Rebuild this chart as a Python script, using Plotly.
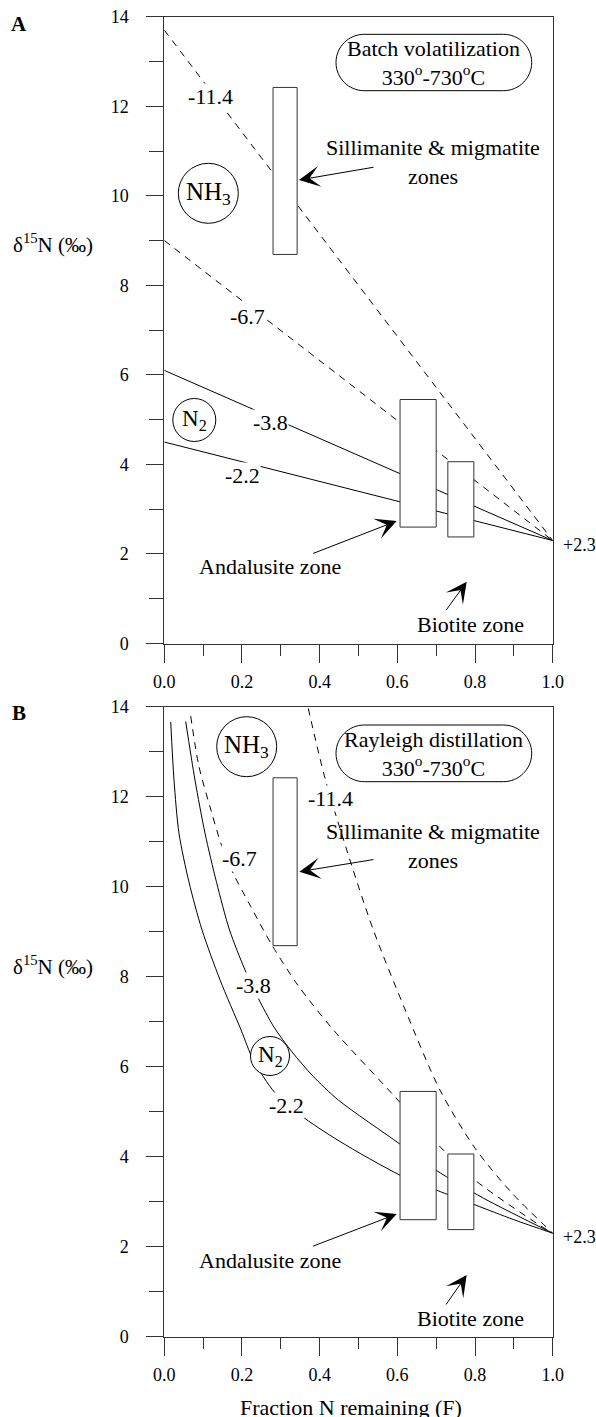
import plotly.graph_objects as go

W, H = 596, 1417
FONT = "Liberation Serif, Times New Roman, serif"

# ---------------- data ----------------
# Panel A: batch volatilization (straight lines from F=0 to F=1)
batch_F = [0.0, 1.0]
batch_m11_4 = [13.7, 2.3]
batch_m6_7 = [9.0, 2.3]
batch_m3_8 = [6.1, 2.3]
batch_m2_2 = [4.5, 2.3]

# Panel B: Rayleigh distillation curves
ray_F_m2_2 = [0.0165, 0.025, 0.0378, 0.0636, 0.0971, 0.1434, 0.1975, 0.2291, 0.285, 0.3494, 0.45, 0.607, 0.70, 0.80, 0.90, 1.0]
ray_d_m2_2 = [13.66, 12.37, 11.19, 10.10, 9.04, 7.93, 6.82, 6.15, 5.42, 4.93, 4.35, 3.59, 3.26, 2.93, 2.6, 2.3]
ray_F_m3_8 = [0.0551, 0.079, 0.1048, 0.1344, 0.1679, 0.2078, 0.242, 0.2824, 0.3288, 0.3828, 0.448, 0.6069, 0.6996, 0.8213, 1.0]
ray_d_m3_8 = [13.67, 12.37, 11.19, 10.10, 9.04, 8.15, 7.52, 6.88, 6.33, 5.79, 5.26, 4.28, 3.70, 3.08, 2.3]
ray_F_m6_7 = [0.068, 0.0893, 0.1202, 0.1486, 0.1795, 0.2207, 0.2773, 0.344, 0.4351, 0.594, 0.7013, 0.80, 0.9588, 1.0]
ray_d_m6_7 = [13.79, 12.67, 11.70, 10.89, 10.26, 9.59, 8.70, 7.81, 6.82, 5.33, 4.30, 3.48, 2.52, 2.3]
ray_F_m11_4 = [0.3707, 0.4138, 0.4696, 0.5381, 0.6205, 0.7098, 0.80, 0.8953, 1.0]
ray_d_m11_4 = [13.96, 12.41, 10.82, 9.04, 7.26, 5.48, 4.19, 3.19, 2.3]

# metamorphic zone ranges (F and delta15N)
zone_names = ["Sillimanite & migmatite", "Andalusite", "Biotite"]
zone_F_lo = [0.28, 0.607, 0.73]
zone_F_hi = [0.342, 0.70, 0.797]
zone_d_lo = [8.69, 2.6, 2.38]
zone_d_hi = [12.42, 5.45, 4.06]

x_ticks = [0.0, 0.2, 0.4, 0.6, 0.8, 1.0]
y_ticks = [0, 2, 4, 6, 8, 10, 12, 14]

# ---------------- helpers ----------------
def px(x):
    return x / W


def py(y):
    return 1 - y / H


fig = go.Figure()

line_solid = dict(color="black", width=1)
line_dash = dict(color="black", width=1, dash="7px,6px")

# Panel A traces
for d, st in [(batch_m11_4, line_dash), (batch_m6_7, line_dash),
              (batch_m3_8, line_solid), (batch_m2_2, line_solid)]:
    fig.add_trace(go.Scatter(x=batch_F, y=d, mode="lines", line=st,
                             xaxis="x", yaxis="y", hoverinfo="skip"))

# Panel B traces
for F, d, st in [(ray_F_m11_4, ray_d_m11_4, line_dash), (ray_F_m6_7, ray_d_m6_7, line_dash),
                 (ray_F_m3_8, ray_d_m3_8, line_solid), (ray_F_m2_2, ray_d_m2_2, line_solid)]:
    fig.add_trace(go.Scatter(x=F, y=d, mode="lines", line=dict(st, shape="spline", smoothing=0.8),
                             xaxis="x2", yaxis="y2", hoverinfo="skip"))

shapes = []
# zone boxes in both panels
for xr, yr in [("x", "y"), ("x2", "y2")]:
    for i in range(len(zone_names)):
        shapes.append(dict(type="rect", xref=xr, yref=yr,
                           x0=zone_F_lo[i], x1=zone_F_hi[i], y0=zone_d_lo[i], y1=zone_d_hi[i],
                           fillcolor="white", line=dict(color="#333", width=1), layer="above"))


def circle(cx, cy, r):
    return dict(type="circle", xref="paper", yref="paper", xsizemode="pixel", ysizemode="pixel",
                xanchor=px(cx), yanchor=py(cy), x0=-r, x1=r, y0=-r, y1=r,
                line=dict(color="black", width=1), fillcolor="white", layer="above")


def stadium(x0, x1, y0, y1):
    cx, cy = (x0 + x1) / 2, (y0 + y1) / 2
    hw, r = (x1 - x0) / 2, (y1 - y0) / 2
    s = hw - r
    k = 0.5523 * r
    p = (f"M{-s},{r} L{s},{r} C{s + k},{r} {hw},{k} {hw},0 "
         f"C{hw},{-k} {s + k},{-r} {s},{-r} L{-s},{-r} "
         f"C{-s - k},{-r} {-hw},{-k} {-hw},0 C{-hw},{k} {-s - k},{r} {-s},{r} Z")
    return dict(type="path", xref="paper", yref="paper", xsizemode="pixel", ysizemode="pixel",
                xanchor=px(cx), yanchor=py(cy), path=p,
                line=dict(color="black", width=1), fillcolor="white", layer="above")


shapes += [circle(208.3, 193.3, 30), circle(194.3, 420, 21.5),
           circle(246.7, 746.7, 30), circle(270, 1056, 19.5),
           stadium(336, 531.7, 34.3, 90.7), stadium(336, 531.7, 725, 781.7)]

ann = []


def text(t, x, y, size=22, bg=None, xanchor="center"):
    d = dict(text=t, x=px(x), y=py(y), xref="paper", yref="paper", showarrow=False,
             xanchor=xanchor, yanchor="middle", font=dict(family=FONT, size=size, color="black"))
    if bg:
        d.update(bgcolor=bg, borderpad=0)
    return d


def arrow(tx, ty, sx, sy):
    return dict(text="", x=px(tx), y=py(ty), xref="paper", yref="paper", showarrow=True,
                axref="pixel", ayref="pixel", ax=sx - tx, ay=sy - ty,
                arrowhead=3, arrowsize=3.5, arrowwidth=1, arrowcolor="black", standoff=0)


# Panel A texts
ann += [
    text("<b>A</b>", 19, 24, size=21),
    text("δ<sup>15</sup>N (‰)", 53, 243, size=21),
    text("-11.4", 210.5, 96.5, bg="white"),
    text("-6.7", 247, 316, bg="white"),
    text("-3.8", 270.7, 422, bg="white"),
    text("-2.2", 242, 475, bg="white"),
    text("NH<sub>3</sub>", 208.3, 193.3, size=25),
    text("N<sub>2</sub>", 194.3, 420, size=23),
    text("Batch volatilization<br>330<sup>o</sup>-730<sup>o</sup>C", 433.8, 63),
    text("Sillimanite & migmatite<br>zones", 433, 162),
    arrow(299, 180, 375, 167),
    text("Andalusite zone", 270, 566.7),
    arrow(396.7, 521, 311.7, 554),
    text("Biotite zone", 470, 624),
    arrow(466.7, 581.7, 445, 611.7),
    text("+2.3", 561, 545, size=18, xanchor="left"),
]
# Panel B texts
ann += [
    text("<b>B</b>", 19, 712.5, size=21),
    text("δ<sup>15</sup>N (‰)", 53, 965, size=21),
    text("-11.4", 330.5, 798, bg="white"),
    text("-6.7", 240, 858, bg="white"),
    text("-3.8", 253, 985, bg="white"),
    text("-2.2", 286, 1105, bg="white"),
    text("NH<sub>3</sub>", 246.7, 746.7, size=25),
    text("N<sub>2</sub>", 270, 1056, size=23),
    text("Rayleigh distillation<br>330<sup>o</sup>-730<sup>o</sup>C", 433.8, 754),
    text("Sillimanite & migmatite<br>zones", 433, 846),
    arrow(299.3, 871.7, 375, 859.3),
    text("Andalusite zone", 270, 1260),
    arrow(396.7, 1214, 311.7, 1246.7),
    text("Biotite zone", 470, 1318.3),
    arrow(466.7, 1275, 445, 1306),
    text("+2.3", 561, 1236.7, size=18, xanchor="left"),
    text("Fraction N remaining (F)", 351, 1407, size=22),
]

xdom = [164.3 / W, 552.7 / W]
ax_common = dict(showgrid=False, zeroline=False, showline=True, linecolor="#333", linewidth=1,
                 mirror=True, ticks="outside", tickcolor="#333", tickwidth=1, automargin=False,
                 tickfont=dict(family=FONT, size=18, color="black"))
xa = dict(ax_common, range=[0, 1], tickvals=x_ticks, ticktext=[f"{v:.1f}" for v in x_ticks],
          ticklen=18, ticklabelstandoff=4, domain=xdom,
          minor=dict(dtick=0.1, tick0=0, ticklen=11, ticks="outside", tickcolor="#333"))
ya = dict(ax_common, range=[0, 14], tickvals=y_ticks, ticklen=17, ticklabelstandoff=14,
          minor=dict(dtick=1, tick0=0, ticklen=14, ticks="outside", tickcolor="#333"))

fig.update_layout(
    width=W, height=H, margin=dict(l=0, r=0, t=0, b=0), template="none",
    paper_bgcolor="white", plot_bgcolor="white", showlegend=False,
    xaxis=dict(xa, anchor="y"),
    yaxis=dict(ya, domain=[py(643.5), py(16.7)], anchor="x"),
    xaxis2=dict(xa, anchor="y2"),
    yaxis2=dict(ya, domain=[py(1336.7), py(706.7)], anchor="x2"),
    shapes=shapes, annotations=ann,
)

fig.write_html("out.html", config={"displayModeBar": False},
               post_script="document.body.style.margin='0';document.body.style.padding='0';")
